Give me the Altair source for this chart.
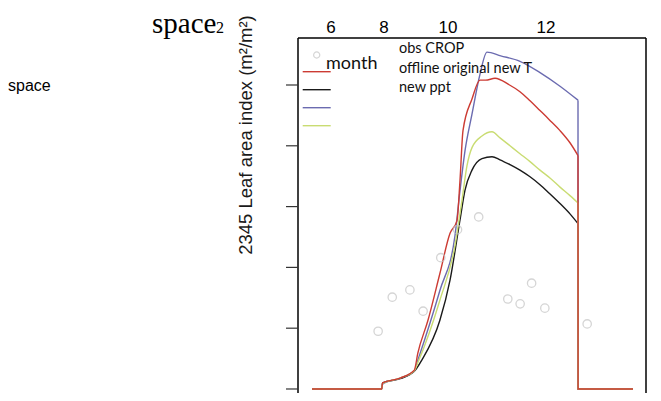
import altair as alt
import pandas as pd

# ---- data (day of year, leaf area index) ----
red_day = [1, 80, 81, 101, 117, 121, 132.5, 146, 157.5, 165.4, 168.8, 172.2, 182.4, 191.5, 198, 208.5, 225, 236.8, 248.2, 259.5, 270, 282.2, 293.5, 302.6, 302.7, 365]
red_lai = [0, 0, 0.10, 0.18, 0.31, 0.59, 1.13, 1.90, 2.56, 2.77, 3.43, 4.25, 4.77, 5.08, 5.08, 5.11, 5.00, 4.89, 4.74, 4.58, 4.43, 4.25, 4.05, 3.84, 0, 0]

black_day = [1, 80, 81, 101, 117, 125.7, 146, 157.5, 168.8, 174.5, 182.4, 193.7, 205.1, 214.2, 225.5, 236.8, 248.2, 259.5, 270, 282.2, 293.5, 302.6, 302.7, 365]
black_lai = [0, 0, 0.10, 0.17, 0.29, 0.48, 1.13, 1.79, 2.78, 3.27, 3.60, 3.79, 3.82, 3.77, 3.69, 3.60, 3.49, 3.36, 3.22, 3.05, 2.88, 2.72, 0, 0]

blue_day = [1, 80, 81, 101, 117, 121.2, 146, 163.1, 168.8, 174.5, 182.4, 191.5, 199.4, 215, 236.8, 260, 282.2, 302.6, 302.7, 365]
blue_lai = [0, 0, 0.08, 0.18, 0.30, 0.48, 1.62, 2.52, 3.26, 3.92, 4.52, 5.18, 5.54, 5.48, 5.39, 5.20, 4.98, 4.75, 0, 0]

green_day = [1, 80, 81, 101, 117, 121.2, 146, 163.1, 171, 176.7, 182.4, 193.7, 205.1, 214.2, 225.5, 236.8, 248.2, 259.5, 270.8, 282.2, 293.5, 302.6, 302.7, 365]
green_lai = [0, 0, 0.09, 0.18, 0.30, 0.44, 1.46, 2.36, 3.10, 3.67, 3.97, 4.16, 4.23, 4.13, 4.00, 3.87, 3.74, 3.60, 3.47, 3.32, 3.18, 3.06, 0, 0]

obs_day = [76, 92, 112, 127, 147, 166, 190, 223, 237, 250, 265, 313]
obs_lai = [0.95, 1.51, 1.63, 1.28, 2.16, 2.62, 2.83, 1.48, 1.40, 1.74, 1.33, 1.07]

month_labels = ["6", "8", "10", "12"]
month_day = [22.5, 82.6, 155.2, 266.3]

y_tick_values = [0, 1, 2, 3, 4, 5]

series_names = ["black", "blue", "green", "red"]
series_colors = ["#1a1a1a", "#6b6bb0", "#c9dc72", "#cc3b33"]
series_data = {
    "red": (red_day, red_lai),
    "black": (black_day, black_lai),
    "blue": (blue_day, blue_lai),
    "green": (green_day, green_lai),
}

legend_texts = ["obs CROP", "offline original new T", "new ppt"]

W, H = 348, 355
x_scale = alt.Scale(domain=[-14.87, 379.7], nice=False, zero=False)
y_scale = alt.Scale(domain=[-0.066, 5.773], nice=False, zero=False)
one = alt.Data(values=[{}])

layers = []

# left border + y ticks drawn from tick values through the y scale
layers.append(alt.Chart(one).mark_rule(color="black", strokeWidth=1.5).encode(
    x=alt.value(0), y=alt.value(0), y2=alt.value(H)))
tick_df = pd.DataFrame({"lai": y_tick_values})
layers.append(alt.Chart(tick_df).mark_rule(color="#333333", strokeWidth=1.2).encode(
    y=alt.Y("lai:Q", scale=y_scale, axis=None),
    x=alt.value(-12), x2=alt.value(0)))

for name, col in zip(series_names, series_colors):
    d, v = series_data[name]
    df = pd.DataFrame({"day": d, "lai": v, "order": range(len(d))})
    n = len(d)
    main = df.iloc[: n - 2]      # growing season, smooth
    tail = df.iloc[n - 3:]       # harvest drop, straight
    for part, interp in ((main, "monotone"), (tail, "linear")):
        layers.append(
            alt.Chart(part).mark_line(color=col, strokeWidth=1.4, interpolate=interp).encode(
                x=alt.X("day:Q", scale=x_scale, axis=None),
                y=alt.Y("lai:Q", scale=y_scale, axis=None),
                order="order:Q",
            )
        )

obs_df = pd.DataFrame({"day": obs_day, "lai": obs_lai})
layers.append(
    alt.Chart(obs_df).mark_point(shape="circle", filled=False, size=70, color="#c4c4c4", strokeWidth=1.3).encode(
        x=alt.X("day:Q", scale=x_scale, axis=None),
        y=alt.Y("lai:Q", scale=y_scale, axis=None),
    )
)

month_df = pd.DataFrame({"day": month_day, "label": month_labels})
layers.append(
    alt.Chart(month_df).mark_text(font="Liberation Sans", fontSize=17, baseline="alphabetic", align="center", color="black").encode(
        x=alt.X("day:Q", scale=x_scale, axis=None),
        y=alt.value(-4.7),
        text="label:N",
    )
)

# box edges (top, right)
layers.append(alt.Chart(one).mark_rule(color="black", strokeWidth=1.5).encode(
    x=alt.value(0), x2=alt.value(W), y=alt.value(0)))
layers.append(alt.Chart(one).mark_rule(color="black", strokeWidth=1.5).encode(
    x=alt.value(W), y=alt.value(0), y2=alt.value(H)))

# legend
layers.append(alt.Chart(one).mark_point(shape="circle", filled=False, size=38, color="#c4c4c4", strokeWidth=1.2).encode(
    x=alt.value(18.7), y=alt.value(17)))
layers.append(alt.Chart(one).mark_text(font="Lato", fontSize=18, align="left", baseline="alphabetic", color="#111111").encode(
    x=alt.value(28), y=alt.value(31), text=alt.value("month")))
leg_line_colors = ["#cc3b33", "#1a1a1a", "#6b6bb0", "#c9dc72"]
for k, c in enumerate(leg_line_colors):
    yy = 33.7 + 18 * k
    layers.append(alt.Chart(one).mark_rule(color=c, strokeWidth=1.4).encode(
        x=alt.value(4.7), x2=alt.value(32.7), y=alt.value(yy)))
for k, t in enumerate(legend_texts):
    layers.append(alt.Chart(one).mark_text(font="Lato", fontSize=14.5, align="left", baseline="alphabetic", color="#111111").encode(
        x=alt.value(101), y=alt.value(15 + 19.7 * k), text=alt.value(t)))

# outer texts
layers.append(alt.Chart(one).mark_text(font="Liberation Sans", fontSize=16, align="left", baseline="alphabetic", color="black").encode(
    x=alt.value(-290), y=alt.value(53), text=alt.value("space")))
layers.append(alt.Chart(one).mark_text(font="Liberation Serif", fontSize=29, align="left", baseline="alphabetic", color="black").encode(
    x=alt.value(-146), y=alt.value(-4.7), text=alt.value("space")))
layers.append(alt.Chart(one).mark_text(font="Liberation Serif", fontSize=16, align="left", baseline="alphabetic", color="black").encode(
    x=alt.value(-82), y=alt.value(-5), text=alt.value("2")))
layers.append(alt.Chart(one).mark_text(font="Liberation Sans", fontSize=18.5, align="center", baseline="middle", angle=270, color="#1a1a1a").encode(
    x=alt.value(-52), y=alt.value(97), text=alt.value("2345 Leaf area index (m²/m²)")))

chart = alt.layer(*layers).properties(
    width=W, height=H,
    autosize=alt.AutoSizeParams(type="none"),
    padding={"left": 290, "top": 30, "right": 5, "bottom": 0},
).configure_view(stroke=None)

chart.save("out.html", embed_options={"renderer": "svg", "actions": False})
